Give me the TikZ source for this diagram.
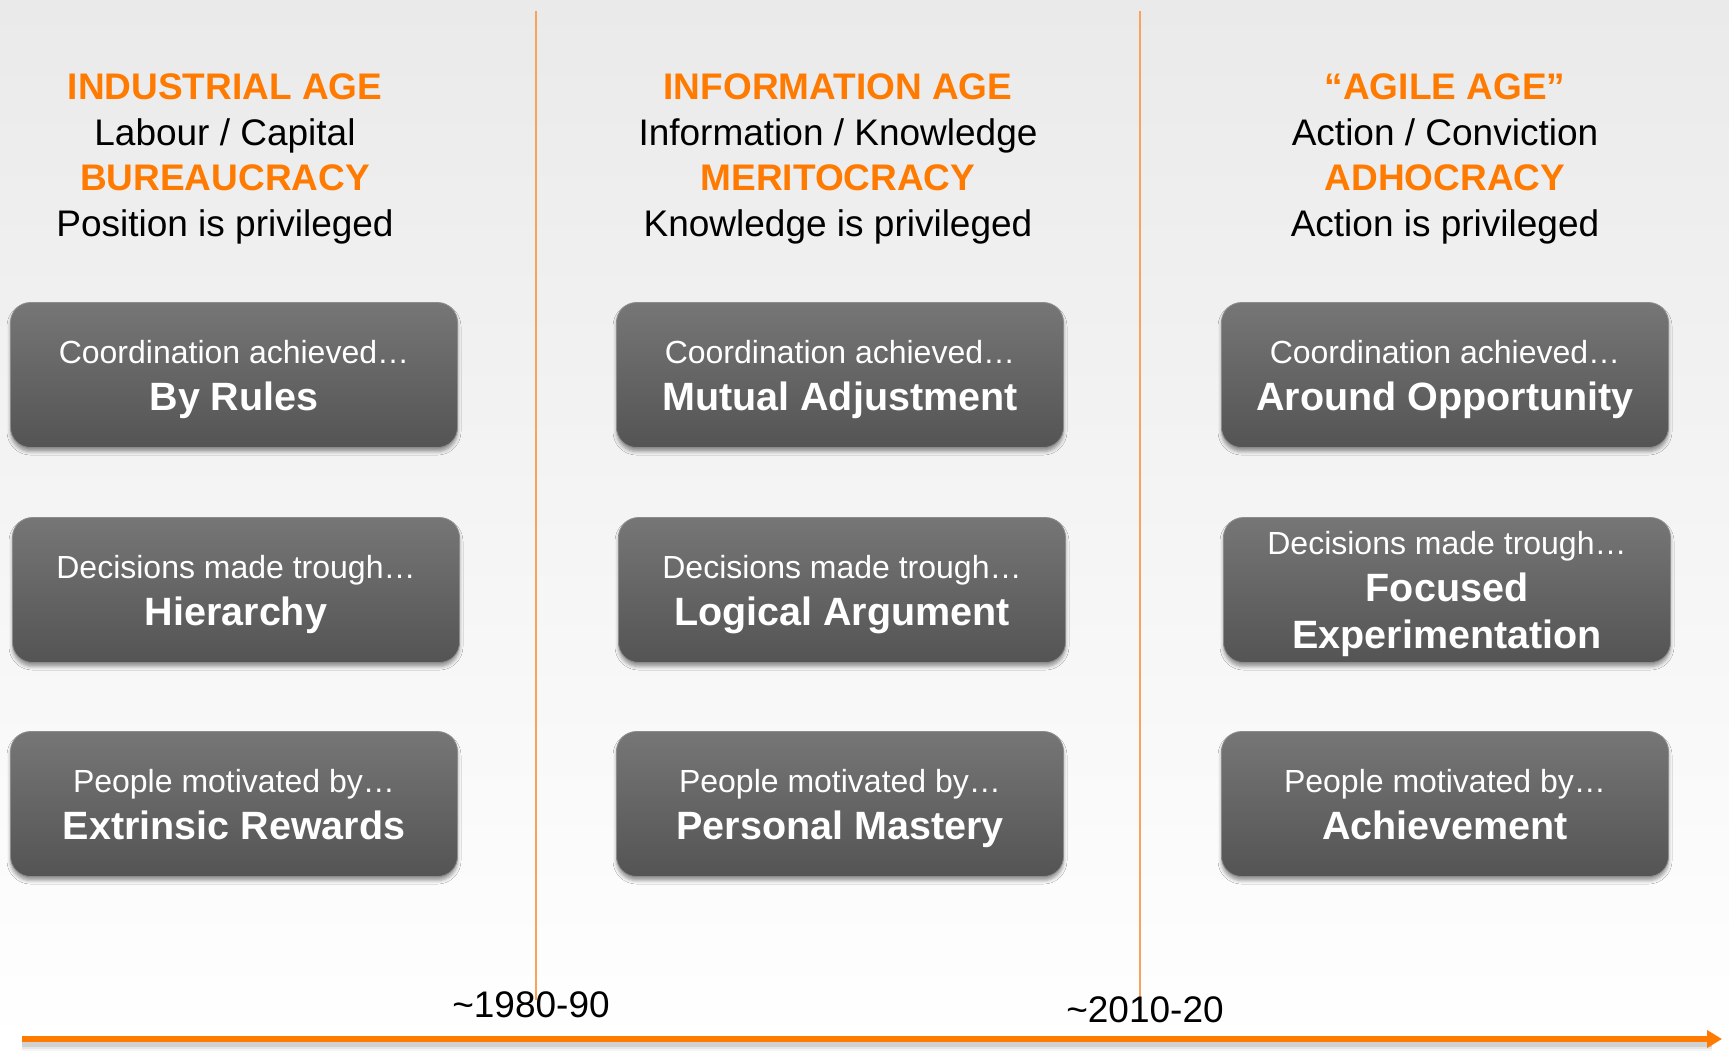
\documentclass[tikz,border=0pt]{standalone}
\usepackage{fontspec}
\setmainfont{Liberation Sans}
\usetikzlibrary{arrows.meta}
\usetikzlibrary{shadows.blur}
\definecolor{ageorange}{RGB}{255,122,0}
\definecolor{lineorange}{RGB}{248,162,92}
\definecolor{cardtop}{RGB}{118,118,118}
\definecolor{cardbottom}{RGB}{84,84,84}
\definecolor{cardedge}{RGB}{140,140,140}
\definecolor{bgtop}{RGB}{234,234,234}
\newcommand{\erafont}{\fontsize{37}{45.5}\selectfont}
\newcommand{\leadfont}{\fontsize{32}{47}\selectfont}
\newcommand{\keyfont}{\fontsize{39.5}{47}\selectfont\bfseries}
\tikzset{
    era/.style={align=center, inner sep=0pt, font=\erafont},
    card/.style={rounded corners=20pt, minimum width=447pt, minimum height=145pt, inner sep=0pt,
        text depth=0pt, top color=cardtop, bottom color=cardbottom, draw=cardedge, line width=0.8pt,
        text=white, align=center, font=\leadfont,
        blur shadow={shadow xshift=0pt, shadow yshift=-4pt, shadow blur radius=3.5pt, shadow opacity=40}},
    period/.style={anchor=base, inner sep=0pt, font=\erafont},
    divider/.style={lineorange, line width=2.5pt}
}

\begin{document}
\begin{tikzpicture}[x=1pt, y=-1pt]
% background, light grey fading to white
\shade[top color=bgtop, bottom color=white] (0,0) rectangle (1729,1050);
\useasboundingbox (0,0) rectangle (1729,1050);
% dividers between the ages
\foreach \p/\x/\yend in {d1/536/1000, d2/1140/1002}{
    \coordinate (\p-top) at (\x,11);
    \coordinate (\p-bot) at (\x,\yend);
    \draw[divider] (\p-top) -- (\p-bot);
}
% the three ages
\foreach \p/\x/\age/\basis/\form/\priv in {
    ind/225/{INDUSTRIAL AGE}/{Labour / Capital}/{BUREAUCRACY}/{Position is privileged},
    inf/838/{INFORMATION AGE}/{Information / Knowledge}/{MERITOCRACY}/{Knowledge is privileged},
    agi/1445/{“AGILE AGE”}/{Action / Conviction}/{ADHOCRACY}/{Action is privileged}}{
    \node[era] (\p) at (\x,159) {\textcolor{ageorange}{\bfseries\age}\\\basis\\\textcolor{ageorange}{\bfseries\form}\\\priv};
}
% coordination, decisions, motivation
\foreach \p/\x/\y/\lead/\key in {
    cr/234/375/{Coordination achieved…}/{By Rules},
    cm/840/375/{Coordination achieved…}/{Mutual Adjustment},
    co/1445/375/{Coordination achieved…}/{Around Opportunity},
    dh/236/590/{Decisions made trough…}/{Hierarchy},
    dl/842/590/{Decisions made trough…}/{Logical Argument},
    df/1447/590/{Decisions made trough…}/{Focused\\\keyfont Experimentation},
    pe/234/804/{People motivated by…}/{Extrinsic Rewards},
    pp/840/804/{People motivated by…}/{Personal Mastery},
    pa/1445/804/{People motivated by…}/{Achievement}}{
    \node[card] (\p) at (\x,\y) {\lead\\\keyfont\key};
}
% timeline
\node[period] (y1) at (531,1017) {\textasciitilde1980-90};
\node[period] (y2) at (1145,1022) {\textasciitilde2010-20};
\coordinate (t0) at (22,1039);
\coordinate (t1) at (1722,1039);
\foreach \w/\o in {14/0.04, 10/0.06, 6/0.09}
    \draw[black, opacity=\o, line width=\w pt] ([yshift=-5pt]t0) -- ([xshift=-10pt,yshift=-5pt]t1);
\draw[ageorange, line width=6pt, -{Triangle[length=15pt, width=17pt]}] (t0) -- (t1);
\end{tikzpicture}
\end{document}
